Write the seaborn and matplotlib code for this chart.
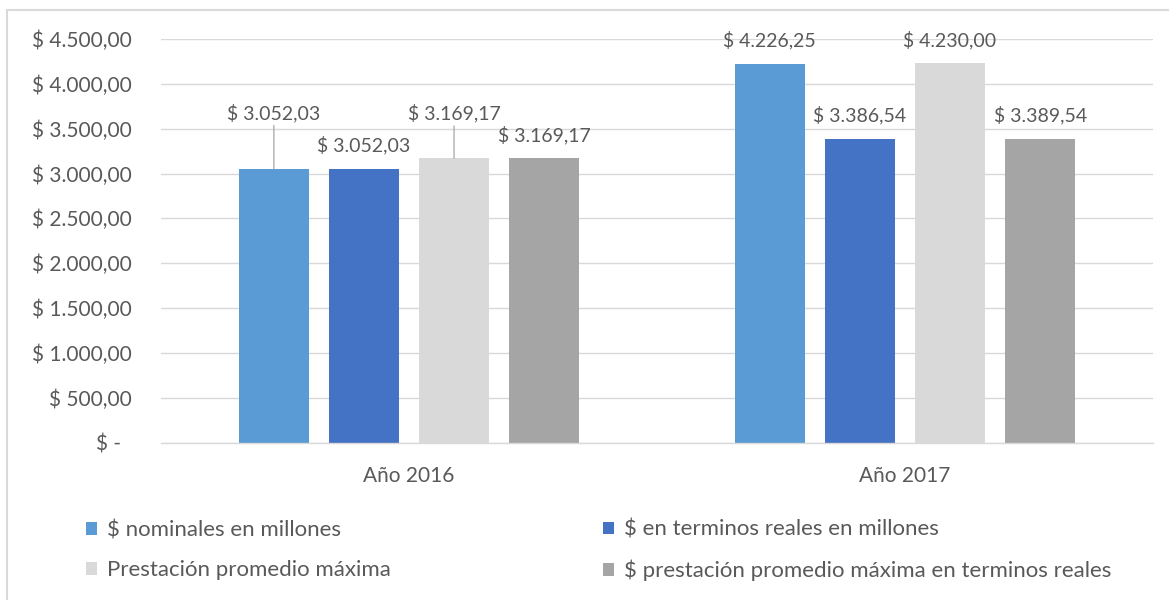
import pandas as pd
import seaborn as sns
import matplotlib.pyplot as plt
from matplotlib.ticker import FuncFormatter
from matplotlib.lines import Line2D

# Data
years = ['Año 2016', 'Año 2017']
series = ['$ nominales en millones',
          '$ en terminos reales en millones',
          'Prestación promedio máxima',
          '$ prestación promedio máxima en terminos reales']
values_2016 = [3052.03, 3052.03, 3169.17, 3169.17]
values_2017 = [4226.25, 3386.54, 4230.00, 3389.54]

colors = ['#5B9BD5', '#4472C4', '#D9D9D9', '#A5A5A5']
text_color = '#595959'
grid_color = '#D9D9D9'

# labels that Excel moved up with a leader line: (series, year) -> offset in px
moved_labels = {(0, 0): 56, (2, 0): 45}

sns.set_style('white')
plt.rcParams['font.family'] = ['Lato', 'DejaVu Sans']
plt.rcParams['text.color'] = text_color


def money(v, pos=None):
    if v == 0:
        return '$ -  '
    s = f'{v:,.2f}'.replace(',', '_').replace('.', ',').replace('_', '.')
    return '$ ' + s


rows = []
for i, name in enumerate(series):
    rows.append({'year': years[0], 'series': name, 'value': values_2016[i]})
    rows.append({'year': years[1], 'series': name, 'value': values_2017[i]})
df = pd.DataFrame(rows)

fig = plt.figure(figsize=(11.69, 6.0), dpi=100)
ax = fig.add_axes([161 / 1169, 157.5 / 600, 992 / 1169, 403.5 / 600])

sns.barplot(data=df, x='year', y='value', hue='series', hue_order=series,
            order=years, palette=colors, saturation=1, width=0.7265, gap=0.222,
            linewidth=0, ax=ax)

ax.set_xlim(-0.5, 1.5)
ax.set_ylim(0, 4500)
ax.set_yticks(range(0, 4501, 500))
ax.yaxis.set_major_formatter(FuncFormatter(money))
ax.set_xlabel('')
ax.set_ylabel('')
ax.grid(axis='y', color=grid_color, linewidth=1)
ax.set_axisbelow(True)
for side in ['top', 'right', 'left']:
    ax.spines[side].set_visible(False)
ax.spines['bottom'].set_color(grid_color)
ax.spines['bottom'].set_linewidth(1)
ax.tick_params(axis='both', length=0, labelsize=15, labelcolor=text_color)
ax.tick_params(axis='y', pad=21)
ax.tick_params(axis='x', pad=17)

# data labels
for i, cont in enumerate(ax.containers):
    for j, bar in enumerate(cont):
        x = bar.get_x() + bar.get_width() / 2
        top = bar.get_height()
        if (i, j) in moved_labels:
            off = moved_labels[(i, j)] * 72 / 100
            ax.annotate(money(top), xy=(x, top), xytext=(0, off),
                        textcoords='offset points', ha='center', va='center',
                        fontsize=14, color=text_color,
                        arrowprops=dict(arrowstyle='-', color='#A6A6A6', lw=0.9,
                                        relpos=(0.5, 0), shrinkA=0, shrinkB=0))
        else:
            ax.annotate(money(top), xy=(x, top), xytext=(0, 17),
                        textcoords='offset points', ha='center', va='center',
                        fontsize=14, color=text_color)

# legend in two columns, Excel style (row-major)
handles, labels = ax.get_legend_handles_labels()
ax.get_legend().remove()
leg_kw = dict(frameon=False, fontsize=16, handlelength=0.5, handleheight=0.5,
              handletextpad=0.45, labelspacing=0.9, borderpad=0, borderaxespad=0,
              loc='center left', labelcolor=text_color)
leg1 = fig.legend([handles[0], handles[2]], [labels[0], labels[2]],
                  bbox_to_anchor=(86 / 1169, 1 - 550.5 / 600), **leg_kw)
leg2 = fig.legend([handles[1], handles[3]], [labels[1], labels[3]],
                  bbox_to_anchor=(603 / 1169, 1 - 550.5 / 600), **leg_kw)

# chart area border
fig.add_artist(Line2D([7 / 1169, 7 / 1169], [0, 1 - 10 / 600], color=grid_color, lw=1.5))
fig.add_artist(Line2D([7 / 1169, 1], [1 - 10 / 600, 1 - 10 / 600], color=grid_color, lw=1.5))

fig.savefig('out.png', dpi=100)
